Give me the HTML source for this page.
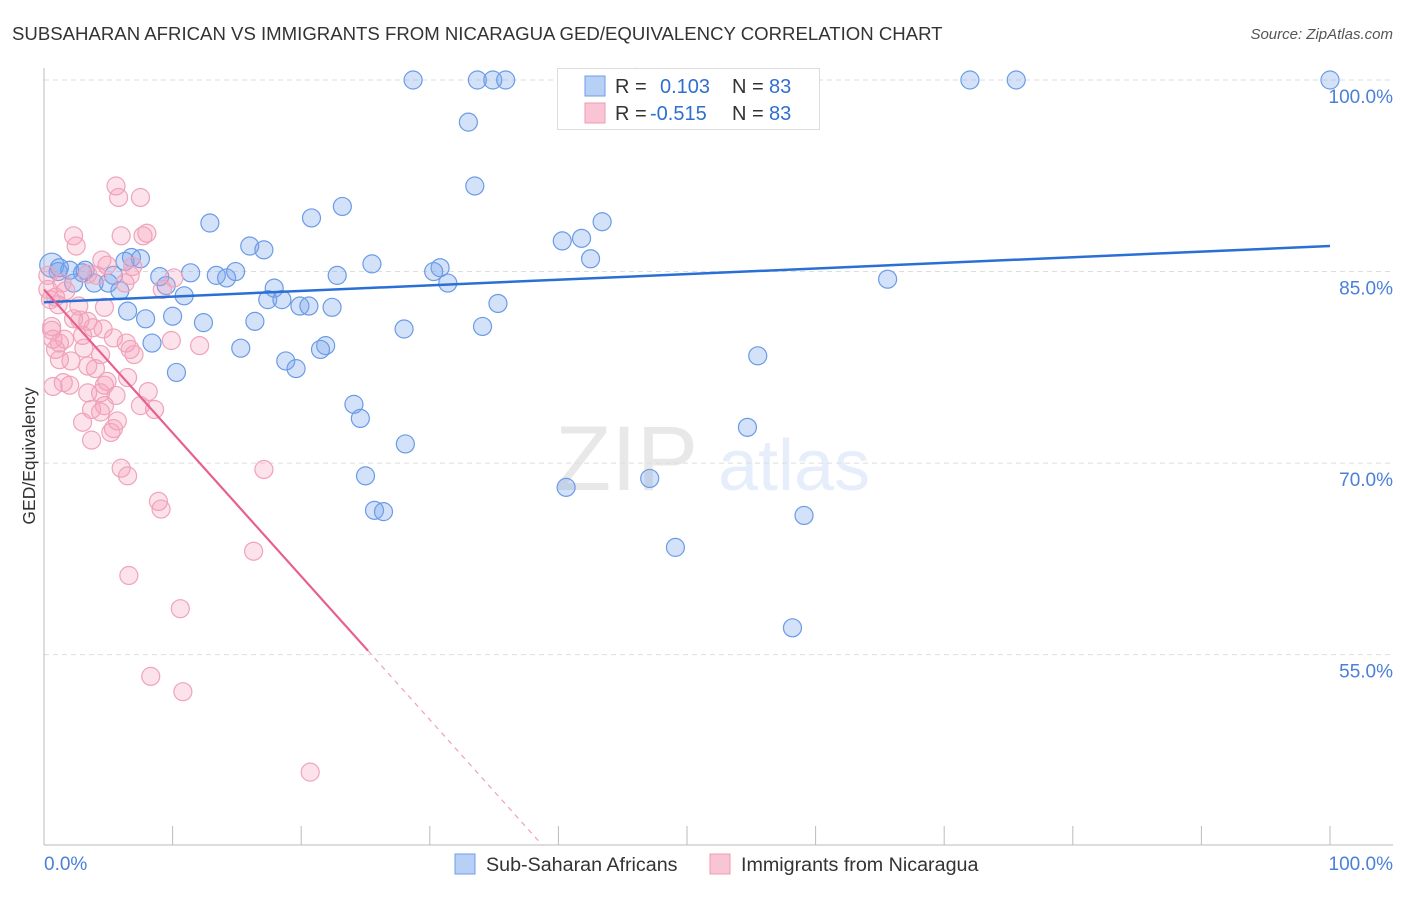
<!DOCTYPE html>
<html><head><meta charset="utf-8"><style>
body{margin:0;background:#fff;font-family:"Liberation Sans",sans-serif;}
svg text{font-family:"Liberation Sans",sans-serif;}
</style></head><body>
<svg id="chart" width="1406" height="892" viewBox="0 0 1406 892">
<text x="12" y="40" font-size="18.6" fill="#333">SUBSAHARAN AFRICAN VS IMMIGRANTS FROM NICARAGUA GED/EQUIVALENCY CORRELATION CHART</text>
<text x="1393" y="39" font-size="15" fill="#555" font-style="italic" text-anchor="end">Source: ZipAtlas.com</text>
<g opacity="0.13">
<text x="555" y="490" font-size="92" font-family="Liberation Serif" fill="#555">ZIP</text>
<text x="718" y="490" font-size="72" fill="#4a86e8">atlas</text>
</g>
<g id="grid"></g>
<g id="axes"></g>
<g id="pts"></g>
<g id="trend"></g>
<text x="35" y="456" font-size="17.5" fill="#333" text-anchor="middle" transform="rotate(-90 35 456)">GED/Equivalency</text>
<g>
<rect x="557.5" y="68.5" width="262" height="61" fill="#fff" stroke="#ddd"/>
<rect x="585" y="76" width="20" height="20" fill="#b7d0f5" stroke="#6f9de6"/>
<rect x="585" y="103" width="20" height="20" fill="#f9c5d4" stroke="#ee9ab4"/>
<text x="615" y="93" font-size="20" fill="#333">R =</text>
<text x="660" y="93" font-size="20" fill="#2f6fd0">0.103</text>
<text x="732" y="93" font-size="20" fill="#333">N =</text>
<text x="769" y="93" font-size="20" fill="#2f6fd0">83</text>
<text x="615" y="120" font-size="20" fill="#333">R =</text>
<text x="650" y="120" font-size="20" fill="#2f6fd0">-0.515</text>
<text x="732" y="120" font-size="20" fill="#333">N =</text>
<text x="769" y="120" font-size="20" fill="#2f6fd0">83</text>
</g>
<g>
<rect x="455" y="854" width="20" height="20" fill="#b7d0f5" stroke="#6f9de6"/>
<text x="486" y="871" font-size="19.7" fill="#333">Sub-Saharan Africans</text>
<rect x="710" y="854" width="20" height="20" fill="#f9c5d4" stroke="#ee9ab4"/>
<text x="741" y="871" font-size="19.7" fill="#333">Immigrants from Nicaragua</text>
</g>
</svg>
<script>
const yTicks=[100,85,70,55];
const yTickLabels=["100.0%","85.0%","70.0%","55.0%"];
const xTicks=[0,10,20,30,40,50,60,70,80,90,100];
const blueX=[28.7,33.7,34.9,35.9,52.4,72.0,75.6,100,46.1,33.0,33.5,12.9,20.8,23.2,40.3,41.8,43.4,16.0,17.1,42.5,25.5,30.8,30.3,31.4,6.8,7.5,11.4,13.4,14.2,14.9,9.0,9.5,5.4,3.9,3.0,2.3,0.6,1.2,2.0,22.8,17.9,17.4,18.5,19.9,20.6,22.4,35.3,10.9,6.5,7.9,10.0,12.4,16.4,8.4,15.3,10.3,18.8,19.6,21.9,21.5,28.0,34.1,55.5,65.6,24.1,24.6,28.1,25.0,25.7,26.4,40.6,47.1,54.7,59.1,49.1,58.2,5.9,5.0,3.2,6.3,1.1];
const blueY=[100,100,100,100,100,100,100,100,100.2,96.7,91.7,88.8,89.2,90.1,87.4,87.6,88.9,87.0,86.7,86.0,85.6,85.3,85.0,84.1,86.1,86.0,84.9,84.7,84.5,85.0,84.6,83.9,84.7,84.1,84.9,84.1,85.5,85.3,85.1,84.7,83.7,82.8,82.8,82.3,82.3,82.2,82.5,83.1,81.9,81.3,81.5,81.0,81.1,79.4,79.0,77.1,78.0,77.4,79.2,78.9,80.5,80.7,78.4,84.4,74.6,73.5,71.5,69.0,66.3,66.2,68.1,68.8,72.8,65.9,63.4,57.1,83.5,84.1,85.1,85.8,85.0];
const pinkX=[5.6,5.8,7.5,2.3,2.5,8.0,7.7,6.0,4.5,4.9,6.3,4.1,9.2,10.1,3.4,6.9,6.7,4.7,0.5,0.9,1.7,2.3,2.8,3.4,3.8,3.0,4.6,6.4,0.6,0.7,1.2,1.6,0.9,1.2,2.1,4.0,5.4,9.9,12.1,6.7,0.7,1.5,2.0,4.9,4.7,3.4,4.4,3.7,4.4,4.7,6.5,8.1,8.6,5.7,5.4,5.2,3.0,3.7,6.0,6.5,17.1,8.9,9.1,16.3,6.6,10.6,8.3,10.8,20.7,3.1,1.1,0.3,0.3,1.4,0.6,2.7,4.4,7.0,5.6,3.4,7.5];
const pinkY=[91.7,90.8,90.8,87.8,87.0,88.0,87.8,87.8,85.9,85.5,84.1,84.7,83.6,84.5,84.8,85.4,84.7,82.2,82.8,83.0,83.5,81.3,81.2,81.1,80.6,80.0,80.5,79.4,80.4,79.7,79.4,79.7,78.9,78.1,78.0,77.4,79.8,79.6,79.2,78.9,76.0,76.3,76.1,76.4,76.1,75.5,75.5,74.2,74.0,74.5,76.7,75.6,74.2,73.3,72.7,72.4,73.2,71.8,69.6,69.0,69.5,67.0,66.4,63.1,61.2,58.6,53.3,52.1,45.8,79.0,82.4,83.6,84.7,84.1,80.7,82.3,78.5,78.5,75.3,77.6,74.5];
const blueTrend=[82.6,87.0];
const pinkIntercept=83.6, pinkSlope=-1.123, pinkSolidEnd=25.2;

const X0=44,X1=1330,YB=845;
const sx=v=>X0+(X1-X0)*v/100;
const sy=v=>80+(100-v)*12.77;
const NS="http://www.w3.org/2000/svg";
function mk(tag,attrs,parent){const e=document.createElementNS(NS,tag);for(const k in attrs)e.setAttribute(k,attrs[k]);parent.appendChild(e);return e;}
const grid=document.getElementById('grid'),axes=document.getElementById('axes'),pts=document.getElementById('pts'),trend=document.getElementById('trend');
yTicks.forEach((t,i)=>{
 const l=mk('line',{x1:X0,x2:1393,y1:sy(t),y2:sy(t),stroke:'#ddd','stroke-dasharray':'5,4'},grid);
 
 
 const tx=mk('text',{x:1393,y:sy(t)+23,'font-size':19,fill:'#4a80d8','text-anchor':'end'},axes);
 tx.textContent=yTickLabels[i];
 
 
});
const ya=mk('line',{x1:X0,x2:X0,y1:68,y2:YB,stroke:'#bbb'},axes);


const xa=mk('line',{x1:X0,x2:1393,y1:YB,y2:YB,stroke:'#bbb'},axes);


xTicks.forEach(t=>{
 const l=mk('line',{x1:sx(t),x2:sx(t),y1:826,y2:YB,stroke:'#bbb'},axes);
 
 
});
const xl0=mk('text',{x:44,y:870,'font-size':19,fill:'#4a80d8'},axes);xl0.textContent='0.0%';


const xl1=mk('text',{x:1393,y:870,'font-size':19,fill:'#4a80d8','text-anchor':'end'},axes);xl1.textContent='100.0%';



blueX.forEach((x,i)=>{
 const c=mk('circle',{cx:sx(x),cy:sy(blueY[i]),r:i==36?12:9,fill:'rgba(120,165,235,0.32)',stroke:'#6a9be6','stroke-width':1.2},pts);
 
 
});
pinkX.forEach((x,i)=>{
 const c=mk('circle',{cx:sx(x),cy:sy(pinkY[i]),r:9,fill:'rgba(245,160,185,0.3)',stroke:'#f0a3bb','stroke-width':1.2},pts);
 
 
});
const bt=mk('line',{x1:sx(0),y1:sy(blueTrend[0]),x2:sx(100),y2:sy(blueTrend[1]),stroke:'#2a6fd6','stroke-width':2.5},trend);


const pEnd=pinkIntercept+pinkSlope*pinkSolidEnd;
const pt=mk('line',{x1:sx(0),y1:sy(pinkIntercept),x2:sx(pinkSolidEnd),y2:sy(pEnd),stroke:'#e8608e','stroke-width':2.2},trend);


const yBottom=100-(YB-80)/12.77;
const xBottom=(yBottom-pinkIntercept)/pinkSlope;
const pd=mk('line',{x1:sx(pinkSolidEnd),y1:sy(pEnd),x2:sx(xBottom),y2:YB,stroke:'#f0a0b8','stroke-width':1.2,'stroke-dasharray':'5,5'},trend);


</script>
</body></html>
